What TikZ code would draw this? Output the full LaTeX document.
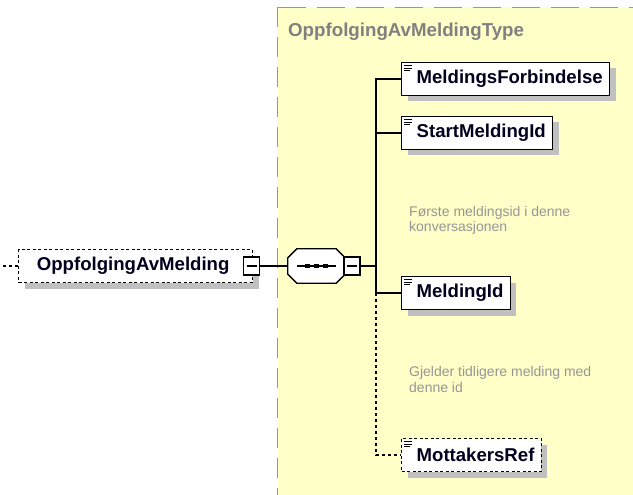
\documentclass[tikz,border=0pt]{standalone}
\usepackage{fontspec}
\setmainfont{Liberation Sans}
\usetikzlibrary{shadows}
\definecolor{ybg}{RGB}{255,255,200}
\definecolor{bordergray}{RGB}{150,150,150}
\definecolor{titlegray}{RGB}{128,128,128}
\definecolor{notegray}{RGB}{150,150,150}
\definecolor{navy}{RGB}{0,0,30}
\definecolor{shadowgray}{RGB}{192,192,192}
\tikzset{
  elem/.style={draw=black, line width=1.3pt, fill=white, minimum height=33pt,
    inner xsep=7pt, inner ysep=0pt, anchor=west, text=navy,
    font=\bfseries\fontsize{18.6}{22}\selectfont,
    drop shadow={shadow xshift=6pt, shadow yshift=-6pt, fill=shadowgray, opacity=1}},
  optelem/.style={elem, dash pattern=on 3pt off 2.5pt},
  expander/.style={draw=black, line width=1.3pt, fill=white, minimum width=16pt,
    minimum height=18pt, inner sep=0pt,
    path picture={\draw[line width=1.3pt] ([xshift=-5pt]path picture bounding box.center) -- ([xshift=5pt]path picture bounding box.center);}},
  conn/.style={line width=1.3pt, black},
  optconn/.style={conn, dash pattern=on 3pt off 3pt},
  note/.style={anchor=base west, align=left, text=notegray, inner sep=0pt,
    font=\fontsize{14}{16}\selectfont},
  doc/.style={line width=0.8pt, black}
}
\begin{document}
\begin{tikzpicture}[x=1pt,y=-1pt]
\useasboundingbox (0,0) rectangle (633,495);
% type box
\fill[ybg] (277.5,7.5) rectangle (640,500);
\draw[bordergray, line width=1.5pt, dash pattern=on 28pt off 11pt] (277.5,7.5) -- (640,7.5);
\draw[bordergray, line width=1.5pt, dash pattern=on 20pt off 10pt] (277.5,7.5) -- (277.5,500);
\node[anchor=base west, inner sep=0pt, text=titlegray, font=\bfseries\fontsize{18.7}{22}\selectfont] (title) at (288,37) {OppfolgingAvMeldingType};

% root element
\node[optelem, minimum width=234pt, anchor=west] (root) at (18,266) {OppfolgingAvMelding\hspace*{5pt}};
\coordinate (stub) at (3,266);
\draw[optconn] (stub) -- (root.west);
\node[expander] (e1) at (251.5,266) {};

% sequence
\node[minimum width=57pt, minimum height=34pt, inner sep=0pt] (seq) at (316.5,266) {};
\begin{scope}[xshift=6pt, yshift=-6pt]
\fill[shadowgray] ([xshift=9pt]seq.north west) -- ([xshift=-9pt]seq.north east) -- ([yshift=-9pt]seq.north east) -- ([yshift=9pt]seq.south east) -- ([xshift=-9pt]seq.south east) -- ([xshift=9pt]seq.south west) -- ([yshift=9pt]seq.south west) -- ([yshift=-9pt]seq.north west) -- cycle;
\end{scope}
\draw[conn, fill=white] ([xshift=9pt]seq.north west) -- ([xshift=-9pt]seq.north east) -- ([yshift=-9pt]seq.north east) -- ([yshift=9pt]seq.south east) -- ([xshift=-9pt]seq.south east) -- ([xshift=9pt]seq.south west) -- ([yshift=9pt]seq.south west) -- ([yshift=-9pt]seq.north west) -- cycle;
\draw[conn] ([xshift=-19.5pt]seq.center) -- ([xshift=19.5pt]seq.center);
\foreach \dx in {-9,0,9} \fill ([xshift=\dx pt-2.25pt, yshift=-2.25pt]seq.center) rectangle ++(4.5,-4.5);
\node[expander] (e2) at (352,266) {};
\draw[conn] (e1.east) -- (seq.west);

% children
\node[elem] (mf) at (401,79) {\hspace*{8pt}MeldingsForbindelse};
\node[elem] (sm) at (401,133) {\hspace*{8pt}StartMeldingId};
\node[elem] (mi) at (401,293) {\hspace*{8pt}MeldingId};
\node[optelem] (mr) at (401,455) {\hspace*{8pt}MottakersRef};
\foreach \n in {mf,sm,mi,mr} {
  \draw[doc] ([shift={(3,4)}]\n.north west) -- ++(8,0);
  \draw[doc] ([shift={(3,6.5)}]\n.north west) -- ++(8,0);
  \draw[doc] ([shift={(3,9)}]\n.north west) -- ++(6,0);
}
\coordinate (bus) at (376,0);
\draw[conn] (e2.east) -- (e2.east -| bus);
\draw[conn] (mf.west) -- (mf.west -| bus) -- (mi.west -| bus) -- (mi.west);
\draw[conn] (sm.west) -- (sm.west -| bus);
\draw[optconn] (mi.west -| bus) -- (mr.west -| bus) -- (mr.west);

% notes (base anchor = baseline of the last line)
\node[note] (n1) at (409,232) {Første meldingsid i denne\\konversasjonen};
\node[note] (n2) at (409,392) {Gjelder tidligere melding med\\denne id};
\end{tikzpicture}
\end{document}
